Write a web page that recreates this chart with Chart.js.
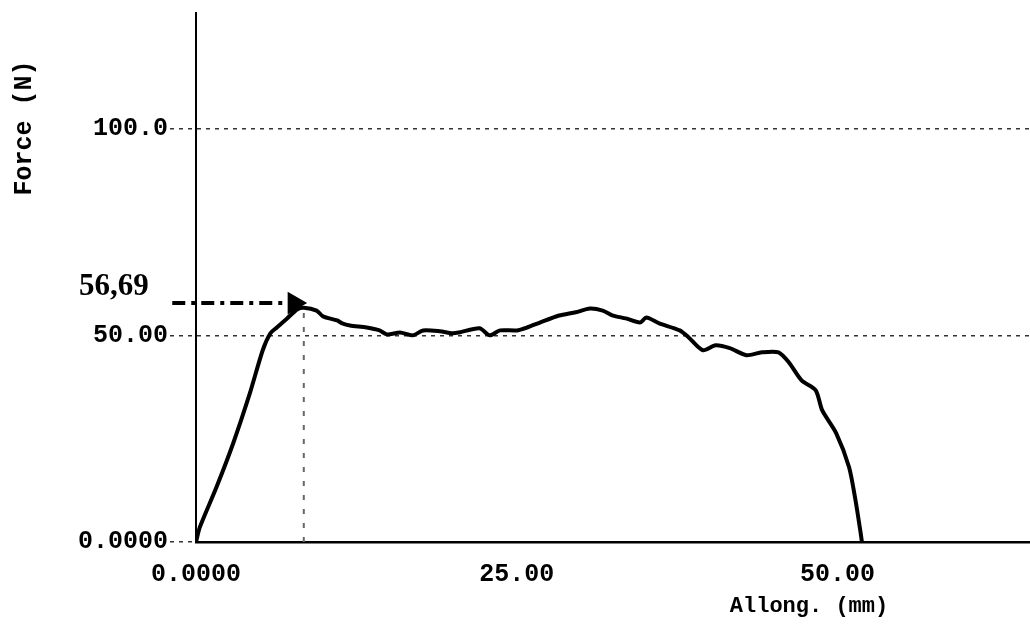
<!DOCTYPE html>
<html>
<head>
<meta charset="utf-8">
<script src="https://cdn.jsdelivr.net/npm/chart.js@4.4.1/dist/chart.umd.min.js"></script>
<style>
  html, body { margin: 0; padding: 0; background: #fff; overflow: hidden; }
  canvas { display: block; }
</style>
</head>
<body>
<canvas id="myChart" width="1030" height="626"></canvas>
<script>
// elongation (mm) and force (N)
const allongMm = [0, 0.3, 1.6, 2.9, 4.2, 5.2, 5.8, 6.3, 7.1, 7.9, 8.4, 9.4, 9.9, 11.0, 11.4, 12.0, 13.3, 14.3, 14.9, 15.9, 16.9, 17.7, 19.0, 20.0, 20.5, 22.1, 22.9, 23.7, 25.0, 25.8, 26.8, 28.3, 29.6, 30.7, 31.7, 32.5, 33.5, 34.6, 35.1, 36.1, 37.7, 38.4, 39.5, 40.5, 41.6, 42.9, 44.1, 45.4, 46.2, 47.2, 48.3, 48.8, 49.9, 50.9, 51.4, 51.8, 51.9];
const forceN   = [0, 3.6, 13.3, 23.9, 36.0, 46.4, 50.5, 51.9, 54.1, 56.3, 56.69, 56.0, 54.6, 53.6, 52.9, 52.4, 51.9, 51.2, 50.2, 50.7, 50.0, 51.2, 51.0, 50.5, 50.7, 51.7, 50.0, 51.2, 51.2, 51.9, 53.1, 54.8, 55.6, 56.5, 56.0, 54.8, 54.1, 53.1, 54.3, 52.9, 51.2, 49.5, 46.4, 47.6, 46.9, 45.2, 45.9, 45.9, 43.5, 39.1, 36.7, 31.9, 26.3, 18.1, 10.1, 2.2, 0];

const xTicks = [0, 25, 50];
const xTickLabels = ['0.0000', '25.00', '50.00'];
const yTicks = [0, 50, 100];
const yTickLabels = ['0.0000', '50.00', '100.0'];

const peakAllong = 8.4;
const peakForce = 56.69;
const peakLabel = '56,69';
const arrowFrom = -1.85;
const arrowLevel = 57.8;

const xTitle = 'Allong. (mm)';
const yTitle = 'Force (N)';

const mono = 'Liberation Mono';

const textPlugin = {
  id: 'texts',
  afterDraw(chart) {
    const c = chart.ctx;
    c.save();
    c.fillStyle = '#000';
    c.textBaseline = 'middle';

    c.font = 'bold 22px ' + mono;
    c.textAlign = 'center';
    c.fillText(xTitle, 809, 606);

    c.save();
    c.translate(25, 128);
    c.rotate(-Math.PI / 2);
    c.font = 'bold 25px ' + mono;
    c.fillText(yTitle, 0, 0);
    c.restore();

    c.font = 'bold 31px "Liberation Serif"';
    c.textAlign = 'left';
    c.fillText(peakLabel, 79, 287);
    c.restore();
  }
};

const ctx = document.getElementById('myChart').getContext('2d');

new Chart(ctx, {
  type: 'line',
  data: {
    datasets: [
      {
        data: allongMm.map((x, i) => ({ x, y: forceN[i] })),
        borderColor: '#000',
        borderWidth: 4,
        pointRadius: 0,
        tension: 0.25,
        borderJoinStyle: 'round',
        borderCapStyle: 'round'
      },
      {
        data: [{ x: peakAllong, y: 0 }, { x: peakAllong, y: peakForce }],
        borderColor: '#666',
        borderWidth: 2,
        borderDash: [5, 9],
        pointRadius: 0
      },
      {
        data: [{ x: arrowFrom, y: arrowLevel }, { x: peakAllong - 0.75, y: arrowLevel }],
        borderColor: '#000',
        borderWidth: 4,
        borderDash: [13, 6, 4, 6],
        pointRadius: [0, 9],
        pointStyle: 'triangle',
        pointRotation: 90,
        pointBackgroundColor: '#000',
        pointBorderColor: '#000',
        clip: false
      }
    ]
  },
  options: {
    responsive: false,
    animation: false,
    layout: { autoPadding: false, padding: { top: 13, left: 0, right: 0, bottom: 0 } },
    plugins: {
      legend: { display: false },
      tooltip: { enabled: false }
    },
    scales: {
      x: {
        type: 'linear',
        min: 0,
        max: 65,
        afterBuildTicks: s => { s.ticks = xTicks.map(v => ({ value: v })); },
        afterFit: s => { s.height = 84; s.paddingRight = 0; s.paddingLeft = 0; },
        ticks: {
          callback: (v, i) => xTickLabels[i],
          color: '#000',
          font: { family: mono, size: 25, weight: 'bold' },
          padding: 18,
          maxRotation: 0,
          autoSkip: false
        },
        grid: { display: false, drawTicks: false },
        border: { display: true, color: '#000', width: 2.5 }
      },
      y: {
        min: 0,
        max: 128,
        afterBuildTicks: s => { s.ticks = yTicks.map(v => ({ value: v })); },
        afterFit: s => { s.width = 196; s.paddingTop = 0; s.paddingBottom = 0; },
        ticks: {
          callback: (v, i) => yTickLabels[i],
          color: '#000',
          font: { family: mono, size: 25, weight: 'bold' },
          padding: 2
        },
        grid: {
          color: '#333',
          lineWidth: 1.5,
          tickLength: 26,
          tickColor: '#333',
          tickWidth: 1.5,
          tickBorderDash: [4, 5]
        },
        border: { display: true, color: '#000', width: 2, dash: [4, 5] }
      }
    }
  },
  plugins: [textPlugin]
});
</script>
</body>
</html>
